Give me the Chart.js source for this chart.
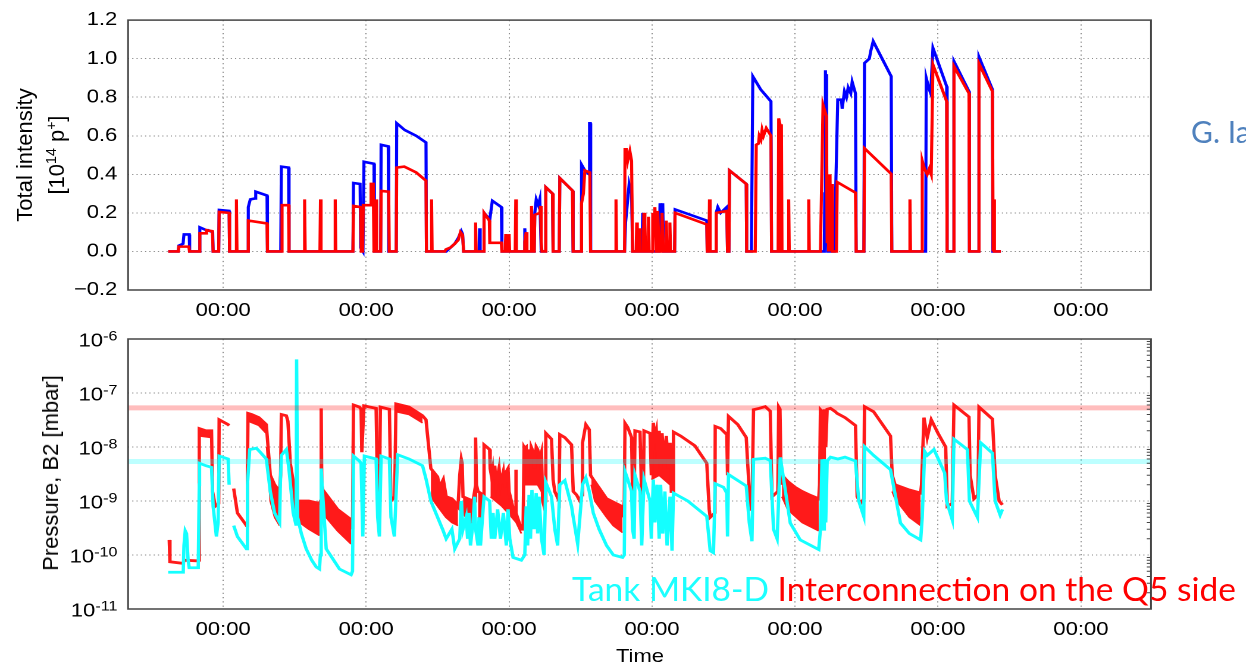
<!DOCTYPE html>
<html><head><meta charset="utf-8">
<script src="https://cdn.jsdelivr.net/npm/chart.js@4.4.0/dist/chart.umd.min.js"></script>
<style>
html,body{margin:0;padding:0;background:#fff;width:1246px;height:665px;overflow:hidden;}
#stretch{position:absolute;left:0;top:0;width:1047px;height:665px;transform:scaleX(1.19);transform-origin:0 0;}
#topWrap{position:absolute;left:0;top:0;width:1047px;height:325px;}
#botWrap{position:absolute;left:0;top:325px;width:1047px;height:340px;}
#timeLbl{position:absolute;left:537.8px;top:647px;transform:translateX(-50%);font-family:"Liberation Sans",Arial,sans-serif;font-size:18.5px;line-height:18.5px;color:#000;white-space:nowrap;}
.ytitle{position:absolute;font-family:"Liberation Sans",Arial,sans-serif;font-size:22px;line-height:22px;color:#000;white-space:nowrap;transform:translate(-50%,-50%) rotate(-90deg);}
.ytitle sup{font-size:64%;line-height:0;vertical-align:0.55em;}
#author{position:absolute;left:1191px;top:116.4px;font-family:Lato,"Open Sans",sans-serif;font-size:30px;line-height:30px;color:#4f81bd;white-space:nowrap;}
#legendTxt{position:absolute;left:572px;top:572.3px;font-family:Lato,"Open Sans",sans-serif;font-size:33.5px;line-height:33.5px;white-space:nowrap;}
</style>
</head><body>
<div id="stretch">
  <div id="topWrap"><canvas id="c1"></canvas></div>
  <div id="botWrap"><canvas id="c2"></canvas></div>
  <div id="timeLbl">Time</div>
</div>
<div class="ytitle" style="left:25px;top:155px">Total intensity</div>
<div class="ytitle" style="left:57px;top:155px">[10<sup>14</sup> p<sup>+</sup>]</div>
<div class="ytitle" style="left:51px;top:473px">Pressure, B2 [mbar]</div>
<div id="author">G. Ia</div>
<div id="legendTxt"><span style="color:#1cffff">Tank MKI8-D</span> <span style="color:#ff0000">Interconnection on the Q5 side</span></div>
<script>
// ---- axis ticks (time in days from first tick) ----
const xMin = -0.665, xMax = 6.49;
const dayTicks = [0,1,2,3,4,5,6];
const dayTickLabels = ['00:00','00:00','00:00','00:00','00:00','00:00','00:00'];
const intensityTicks = [-0.2,0,0.2,0.4,0.6,0.8,1.0,1.2];
const pressureExponents = [-11,-10,-9,-8,-7,-6];
const redLimit = 5.3e-8;
const cyanLimit = 5.4e-9;

// ---- Total intensity [1e14 p] : [day, value] ----
const blueIntensity = [
[-0.384,0],[-0.314,0],[-0.31,0.03],[-0.28,0.04],[-0.274,0.088],[-0.237,0.088],[-0.234,0],
[-0.168,0],[-0.163,0.125],[-0.116,0.11],[-0.105,0.11],[-0.073,0.1],[-0.07,0],
[-0.031,0],[-0.028,0.215],[0.042,0.21],[0.045,0],
[0.172,0],[0.176,0.23],[0.19,0.27],[0.223,0.275],[0.228,0.31],[0.307,0.29],[0.31,0],
[0.403,0],[0.407,0.44],[0.458,0.435],[0.461,0],
[0.908,0],[0.912,0.355],[0.958,0.35],[0.962,0.02],[0.978,0],[0.985,0.465],[1.055,0.455],[1.058,0],
[1.102,0],[1.105,0.553],[1.155,0.545],[1.158,0],
[1.211,0],[1.214,0.665],[1.27,0.63],[1.35,0.6],[1.419,0.565],[1.422,0],
[1.56,0],[1.59,0.02],[1.62,0.04],[1.645,0.07],[1.666,0.105],[1.675,0.09],[1.682,0],
[1.79,0],[1.794,0.12],[1.798,0],[1.822,0],[1.825,0.2],[1.86,0.17],[1.865,0.165],[1.883,0.263],[1.946,0.23],[1.95,0],
[2.106,0],[2.11,0.12],[2.118,0],[2.176,0],[2.18,0.2],[2.19,0.27],[2.205,0.24],[2.215,0.27],[2.225,0],
[2.253,0],[2.257,0.333],[2.304,0.3],[2.308,0],
[2.351,0],[2.355,0.38],[2.444,0.315],[2.448,0],
[2.503,0],[2.507,0.45],[2.53,0.42],[2.56,0.4],[2.563,0.665],[2.568,0.665],[2.571,0],
[2.808,0],[2.815,0.15],[2.84,0.35],[2.857,0.3],[2.864,0],
[2.93,0],[2.935,0.2],[2.94,0],[3.05,0],[3.056,0.25],[3.065,0.2],[3.075,0.25],[3.08,0],
[3.158,0],[3.161,0.218],[3.383,0.16],[3.386,0],
[3.445,0],[3.449,0.2],[3.46,0.23],[3.48,0.2],[3.523,0.23],[3.528,0],
[3.538,0],[3.542,0.42],[3.659,0.35],[3.662,0],
[3.695,0],[3.705,0.908],[3.76,0.84],[3.832,0.778],[3.836,0],
[4.205,0],[4.208,0.3],[4.213,0.94],[4.216,0.6],[4.219,0.92],[4.223,0.2],[4.228,0],
[4.275,0],[4.299,0.787],[4.325,0.787],[4.33,0.74],[4.346,0.83],[4.36,0.8],[4.372,0.85],[4.39,0.82],[4.4,0.88],[4.423,0.82],[4.428,0],
[4.482,0],[4.486,0.977],[4.52,1.0],[4.53,1.04],[4.547,1.09],[4.673,0.908],[4.677,0],
[4.914,0],[4.918,0.9],[4.935,0.85],[4.949,0.82],[4.965,1.055],[5.061,0.856],[5.064,0],
[5.108,0],[5.112,0.986],[5.217,0.83],[5.22,0],
[5.283,0],[5.287,1.009],[5.381,0.84],[5.384,0],[5.44,0]
];
const redIntensity = [
[-0.384,0],[-0.314,0],[-0.31,0.025],[-0.24,0.025],[-0.235,0],
[-0.168,0],[-0.163,0.094],[-0.12,0.094],[-0.116,0.11],[-0.075,0.105],[-0.07,0],
[-0.031,0],[-0.028,0.205],[0.042,0.2],[0.045,0],
[0.089,0],[0.093,0.27],[0.097,0],
[0.172,0],[0.176,0.16],[0.307,0.145],[0.31,0],
[0.408,0],[0.412,0.24],[0.458,0.24],[0.461,0],
[0.566,0],[0.57,0.27],[0.574,0],
[0.677,0],[0.681,0.27],[0.685,0],
[0.78,0],[0.784,0.27],[0.788,0],
[0.908,0],[0.912,0.236],[0.962,0.23],[0.966,0],
[0.976,0],[0.98,0.24],[1.03,0.24],[1.035,0.35],[1.05,0.35],[1.055,0],
[1.066,0],[1.07,0.27],[1.074,0],
[1.102,0],[1.105,0.314],[1.158,0.31],[1.162,0],
[1.211,0],[1.214,0.435],[1.267,0.44],[1.35,0.41],[1.419,0.367],[1.422,0],
[1.454,0],[1.458,0.27],[1.462,0],
[1.55,0],[1.558,0.01],[1.59,0.02],[1.62,0.04],[1.645,0.06],[1.66,0.1],[1.675,0.085],[1.682,0],
[1.762,0],[1.766,0.15],[1.77,0],
[1.822,0],[1.825,0.2],[1.862,0.16],[1.865,0.045],[1.946,0.045],[1.95,0],
[1.973,0],[1.977,0.09],[1.981,0],[1.996,0],[2.0,0.09],[2.004,0],
[2.043,0],[2.047,0.27],[2.051,0],
[2.106,0],[2.11,0.05],[2.12,0.1],[2.125,0],[2.153,0],[2.157,0.236],[2.161,0],
[2.176,0],[2.18,0.19],[2.215,0.2],[2.22,0.236],[2.225,0.05],[2.23,0],
[2.253,0],[2.257,0.333],[2.304,0.3],[2.308,0],
[2.351,0],[2.355,0.38],[2.444,0.315],[2.448,0],
[2.503,0],[2.507,0.25],[2.52,0.3],[2.53,0.42],[2.565,0.41],[2.57,0],
[2.744,0],[2.748,0.27],[2.752,0],
[2.808,0],[2.811,0.53],[2.82,0.53],[2.83,0.47],[2.845,0.52],[2.857,0.47],[2.864,0],
[2.889,0],[2.893,0.15],[2.897,0],[2.909,0],[2.913,0.12],[2.917,0],[2.939,0],[2.943,0.2],[2.95,0.15],[2.955,0],
[2.971,0],[2.975,0.18],[2.98,0],[3.001,0],[3.005,0.2],[3.015,0.1],[3.02,0.23],[3.03,0],[3.035,0],[3.04,0.21],[3.05,0],
[3.066,0],[3.07,0.2],[3.08,0],[3.096,0],[3.1,0.16],[3.105,0],[3.121,0],[3.125,0.15],[3.13,0],
[3.158,0],[3.161,0.2],[3.383,0.14],[3.386,0],
[3.398,0],[3.402,0.27],[3.406,0],
[3.445,0],[3.449,0.2],[3.523,0.21],[3.528,0],
[3.538,0],[3.542,0.42],[3.659,0.35],[3.662,0],
[3.722,0],[3.729,0.553],[3.745,0.56],[3.75,0.6],[3.762,0.58],[3.77,0.63],[3.78,0.6],[3.799,0.64],[3.832,0.6],[3.836,0],
[3.882,0],[3.886,0.69],[3.895,0.66],[3.9,0],[3.905,0.66],[3.909,0],
[3.952,0],[3.956,0.27],[3.96,0],[4.092,0],[4.096,0.27],[4.1,0],
[4.178,0],[4.196,0.76],[4.22,0.7],[4.225,0.05],[4.23,0.4],[4.235,0],[4.245,0.4],[4.25,0],[4.258,0.35],[4.262,0],
[4.29,0],[4.295,0.36],[4.423,0.305],[4.428,0],
[4.482,0],[4.486,0.535],[4.673,0.402],[4.677,0],
[4.8,0],[4.804,0.27],[4.808,0],
[4.885,0],[4.89,0.47],[4.905,0.43],[4.925,0.4],[4.94,0.43],[4.953,0.4],[4.965,0.969],[5.061,0.778],[5.064,0],
[5.108,0],[5.112,0.96],[5.217,0.82],[5.22,0],
[5.283,0],[5.287,0.974],[5.381,0.83],[5.386,0],[5.39,0.27],[5.395,0],[5.44,0]
];

// ---- Pressure B2 [mbar] : [day, value] ----
const redPressure = [
[-0.377,1.9e-10],[-0.372,7.5e-11],[-0.279,7e-11],[-0.274,8e-11],[-0.186,7.8e-11],[-0.17,8e-11],
[-0.167,2.2e-8],[-0.12,2e-8],[-0.081,2e-8],[-0.074,1.5e-9],[-0.055,8e-10],[-0.031,9e-10],
[-0.028,3.2e-8],[0.035,2.6e-8],[0.042,2.5e-8],[0.043,null],
[0.074,1.7e-9],[0.1,6e-10],[0.151,3.9e-10],[0.163,3.5e-10],[0.17,3e-9],[0.174,4.2e-8],[0.2,4e-8],[0.25,3.5e-8],[0.302,2.6e-8],[0.33,3e-9],[0.36,2e-9],[0.395,1.5e-9],[0.402,3e-9],
[0.407,4e-8],[0.442,3.8e-8],[0.453,3e-8],[0.47,5e-9],[0.512,1e-9],[0.535,1e-9],[0.6,1e-9],[0.674,9e-10],[0.681,1e-9],[0.686,5.2e-8],[0.69,2e-9],[0.698,1.6e-9],[0.8,7e-10],[0.895,4.5e-10],[0.905,3e-10],
[0.912,6e-8],[0.953,5.5e-8],[0.965,5e-8],[0.97,8e-9],[0.977,8e-9],[0.985,5.8e-8],[1.07,5.2e-8],[1.081,1e-9],[1.093,1.2e-9],[1.1,5.5e-8],[1.163,5e-8],[1.174,1e-9],[1.2,1.2e-9],
[1.209,6.3e-8],[1.3,5.5e-8],[1.395,3.8e-8],[1.419,3.2e-8],[1.453,4e-9],[1.5,2.8e-9],[1.514,1.8e-9],[1.54,2.5e-9],[1.56,1.2e-9],[1.6,1.1e-9],[1.631,9e-10],[1.643,8e-10],
[1.655,3e-9],[1.666,5.9e-9],[1.672,5e-9],[1.678,1.2e-9],[1.748,1e-9],[1.755,1.3e-9],[1.762,1e-9],[1.766,1.5e-8],[1.772,2e-9],[1.783,1.5e-9],[1.818,1.3e-9],[1.822,1.2e-9],
[1.825,1.1e-8],[1.864,9e-9],[1.868,4e-9],[1.876,3e-9],[1.885,4e-9],[1.89,2.5e-9],[1.9,4.5e-9],[1.91,2e-9],[1.93,4e-9],[1.94,2e-9],[1.96,3.5e-9],[1.97,1.8e-9],[1.981,3.5e-9],[1.993,4e-9],[2.0,1.5e-9],[2.03,7e-10],[2.044,6e-10],[2.047,3.8e-9],[2.05,6e-10],[2.086,3e-10],[2.098,3e-10],
[2.105,1e-8],[2.11,9.5e-9],[2.12,1e-8],[2.13,3e-9],[2.135,9e-9],[2.15,5e-9],[2.155,1e-8],[2.17,8e-9],[2.18,4e-9],[2.19,1e-8],[2.2,9e-9],[2.215,6e-9],[2.227,8e-9],[2.235,1e-9],[2.245,8e-10],[2.252,1e-9],
[2.257,1.8e-8],[2.297,1.4e-8],[2.308,2.5e-9],[2.32,1.5e-9],[2.35,1e-9],[2.355,1.7e-8],[2.39,1.5e-8],[2.437,1.1e-8],[2.449,1.5e-9],[2.472,1.3e-9],[2.495,1e-9],[2.51,1.3e-9],
[2.514,1.2e-8],[2.537,2.6e-8],[2.561,2.1e-8],[2.57,3e-9],[2.589,2.5e-9],[2.682,1.1e-9],[2.787,8e-10],[2.799,5e-10],[2.806,1e-9],
[2.811,2.75e-8],[2.83,2.3e-8],[2.857,1.5e-8],[2.864,1.2e-9],[2.875,1e-9],[2.881,2e-8],[2.916,1.9e-8],[2.928,1.1e-9],[2.94,1.5e-9],[2.944,2e-8],[2.986,1.8e-8],[2.995,3e-9],[3.009,2.8e-8],[3.02,1.5e-8],[3.03,2e-8],[3.04,6e-9],[3.05,2e-8],[3.06,4e-9],[3.07,1.8e-8],[3.085,5e-9],[3.1,1.6e-8],[3.115,4e-9],[3.126,1.2e-8],[3.135,1.5e-9],[3.145,1.5e-9],
[3.15,1.9e-8],[3.2,1.6e-8],[3.3,1.05e-8],[3.383,5e-9],[3.4,7e-10],[3.407,5e-10],[3.44,6e-10],
[3.442,2.4e-8],[3.48,2.2e-8],[3.523,1.7e-8],[3.528,3e-9],
[3.535,3.7e-8],[3.6,2.6e-8],[3.659,1.5e-8],[3.687,7e-10],[3.699,7e-10],
[3.71,4.9e-8],[3.75,5.2e-8],[3.792,5.6e-8],[3.827,4.6e-8],[3.839,1.2e-9],[3.88,1.5e-9],[3.886,5.5e-8],[3.895,5e-8],[3.904,2e-9],
[3.909,3e-9],[3.95,2.3e-9],[4.0,1.8e-9],[4.05,1.5e-9],[4.1,1.3e-9],[4.166,1.1e-9],[4.172,2e-9],
[4.178,4.9e-8],[4.19,4.5e-8],[4.2,2e-9],[4.205,5e-8],[4.215,1e-8],[4.225,5e-8],[4.248,5.2e-8],[4.283,4.5e-8],[4.294,4.2e-8],[4.35,3.5e-8],[4.423,2.5e-8],[4.435,1.2e-9],[4.46,9e-10],[4.481,1.1e-9],
[4.486,5.6e-8],[4.55,4.5e-8],[4.668,1.6e-8],[4.68,3e-9],[4.7,2e-9],[4.8,1.6e-9],[4.879,1.4e-9],[4.885,2e-9],
[4.902,3.5e-8],[4.925,1.5e-8],[4.953,3.2e-8],[5.0,1.8e-8],[5.054,1e-8],[5.065,8e-10],[5.1,9e-10],
[5.112,6e-8],[5.217,3.6e-8],[5.225,3e-9],[5.252,1.1e-9],[5.28,1.3e-9],
[5.287,5.5e-8],[5.381,3.3e-8],[5.4,3e-9],[5.428,1e-9],[5.451,8.5e-10]
];
// lower edge of the noisy red band (gaps = null)
const redPressureLow = [
[-0.163,1.6e-8],[-0.085,1.5e-8],[-0.084,null],
[0.176,3e-8],[0.25,2.5e-8],[0.3,1.8e-8],[0.301,null],
[0.305,1e-8],[0.33,1e-9],[0.36,5e-10],[0.395,3.5e-10],[0.396,null],
[0.47,3e-9],[0.5,6e-10],[0.535,4e-10],[0.6,3e-10],[0.674,2.3e-10],[0.675,null],
[0.69,1e-9],[0.72,5e-10],[0.8,2.8e-10],[0.895,1.6e-10],[0.896,null],
[1.212,4.5e-8],[1.3,4e-8],[1.395,2.8e-8],[1.396,null],
[1.453,1.2e-9],[1.5,8e-10],[1.558,5e-10],[1.6,4e-10],[1.643,3.5e-10],[1.644,null],
[1.678,6e-10],[1.72,4e-10],[1.762,3e-10],[1.763,null],
[1.783,5e-10],[1.818,4e-10],[1.819,null],
[1.87,1.2e-9],[1.95,8e-10],[1.993,6e-10],[2.05,4e-10],[2.086,2.5e-10],[2.087,null],
[2.11,2e-9],[2.15,2e-9],[2.2,2e-9],[2.227,1.5e-9],[2.228,null],
[2.575,2e-9],[2.6,1e-9],[2.682,5e-10],[2.729,3.5e-10],[2.794,2.6e-10],[2.795,null],
[2.995,2.5e-9],[3.05,3e-9],[3.126,2e-9],[3.127,null],
[3.909,1.2e-9],[3.95,6.9e-10],[4.05,4e-10],[4.166,2.8e-10],[4.167,null],
[4.68,1.5e-9],[4.7,1.1e-9],[4.8,5e-10],[4.879,3.5e-10]
];
const cyanPressure = [
[-0.384,4.8e-11],[-0.279,4.8e-11],[-0.274,1.5e-10],[-0.265,2.8e-10],[-0.256,2.5e-10],[-0.245,8e-11],[-0.237,5.8e-11],[-0.174,5.8e-11],
[-0.167,2e-9],[-0.165,5e-9],[-0.12,4.5e-9],[-0.081,4.2e-9],[-0.07,8e-10],[-0.047,2.2e-10],[-0.035,4e-10],
[-0.028,6.8e-9],[0.035,6e-9],[0.042,2e-9],[0.043,null],
[0.074,3.5e-10],[0.1,2.2e-10],[0.163,1.3e-10],[0.17,2e-9],[0.186,9e-9],[0.233,9.5e-9],[0.26,8e-9],[0.302,6e-9],[0.33,1.5e-9],[0.36,6e-10],[0.395,4e-10],[0.4,2e-9],
[0.407,7e-9],[0.442,9e-9],[0.46,4e-9],[0.49,6e-10],[0.511,3.5e-10],[0.514,4.2e-7],[0.518,4.2e-7],[0.521,5e-10],[0.547,2.5e-10],[0.581,1.3e-10],[0.62,8e-11],[0.651,6e-11],[0.674,5.5e-11],[0.68,1e-10],
[0.686,4e-9],[0.692,2e-9],[0.721,1.3e-10],[0.814,5.5e-11],[0.895,4.3e-11],[0.905,5e-11],
[0.912,6.8e-9],[0.953,5.5e-9],[0.965,5e-9],[0.977,2.2e-10],[0.988,6.8e-9],[1.07,6e-9],[1.081,5e-10],[1.093,2.2e-10],[1.105,6.8e-9],[1.163,6e-9],[1.174,5e-10],[1.198,2.2e-10],
[1.221,7.2e-9],[1.3,6e-9],[1.395,4.5e-9],[1.42,2.5e-9],[1.453,1e-9],[1.5,5e-10],[1.535,3e-10],[1.56,2e-10],[1.6,3e-10],[1.62,1.3e-10],[1.655,2e-10],[1.666,1e-9],[1.678,3e-10],
[1.7,5e-10],[1.71,2e-10],[1.72,6e-10],[1.73,1.5e-10],[1.748,4e-10],[1.759,1.2e-9],[1.766,3e-10],[1.783,1.5e-10],[1.79,5e-10],[1.8,1.5e-10],[1.825,1.2e-9],[1.864,1e-9],[1.876,2e-10],[1.888,6e-10],[1.9,2e-10],[1.92,7e-10],[1.94,2e-10],[1.96,6e-10],[1.981,1.5e-10],[1.993,7e-10],[2.005,2e-10],[2.028,9e-11],[2.086,8e-11],
[2.11,1e-10],[2.12,8e-10],[2.13,1.5e-10],[2.14,1.3e-9],[2.15,2e-10],[2.16,1.6e-9],[2.175,3e-10],[2.19,1.4e-9],[2.2,2.5e-10],[2.21,1.2e-9],[2.227,2e-10],[2.245,1e-10],
[2.257,2.2e-9],[2.297,1.2e-9],[2.32,3e-10],[2.34,1.5e-10],[2.355,2e-9],[2.39,2.4e-9],[2.437,8e-10],[2.449,5e-10],[2.48,1.6e-10],[2.514,2e-9],[2.537,2.7e-9],[2.561,1.5e-9],[2.589,6e-10],[2.63,3e-10],[2.682,1.5e-10],[2.729,1e-10],[2.794,9e-11],[2.806,1e-10],
[2.811,3.5e-9],[2.83,2.5e-9],[2.857,1.5e-9],[2.864,3e-10],[2.875,2e-10],[2.881,3e-9],[2.916,1.5e-9],[2.928,1.5e-10],[2.944,2.5e-9],[2.986,1e-9],[2.995,2e-10],[3.009,2.5e-9],[3.02,4e-10],[3.035,2e-9],[3.05,2e-10],[3.06,2e-9],[3.075,2.5e-10],[3.09,1.5e-9],[3.105,1.5e-10],[3.126,1.2e-9],[3.14,1.2e-10],
[3.15,1.4e-9],[3.25,1e-9],[3.383,5.2e-10],[3.407,1.2e-10],[3.43,1.1e-10],[3.442,2.1e-9],[3.5,1.8e-9],[3.523,1.4e-9],[3.528,2.2e-10],
[3.535,3.1e-9],[3.659,1.9e-9],[3.68,4e-10],[3.699,1.8e-10],[3.71,5.9e-9],[3.792,6.2e-9],[3.827,5.6e-9],[3.85,3e-10],[3.875,2e-10],[3.897,6.4e-9],[3.909,4e-9],
[3.967,3.9e-10],[4.037,1.9e-10],[4.166,1.26e-10],[4.178,3e-10],[4.189,5.9e-9],[4.2,3e-10],[4.205,6e-9],[4.215,4e-10],[4.225,5.5e-9],[4.248,6.5e-9],[4.3,6e-9],[4.35,6.5e-9],[4.423,5.5e-9],[4.446,1e-9],[4.481,5.2e-10],
[4.486,1.02e-8],[4.55,7e-9],[4.668,3.8e-9],[4.738,3.9e-10],[4.8,2.5e-10],[4.879,1.9e-10],[4.89,5e-10],[4.907,8.3e-9],[4.925,7e-9],[4.972,9e-9],[5.047,3.3e-9],[5.06,1e-9],[5.1,4.5e-10],
[5.112,1.4e-8],[5.206,9e-9],[5.22,1e-9],[5.276,5e-10],[5.299,1.2e-8],[5.381,7.7e-9],[5.4,1e-9],[5.435,5.5e-10],[5.451,7e-10]
];

// ---- rendering ----
const toXY = arr => arr.map(p => ({x: p[0], y: p[1]}));
const tickFont = {family: '"Liberation Sans", Arial, sans-serif', size: 18.5};
const gridColor = '#8a8a8a';
const Y_AXIS_W = 107.6;

const boxPlugin = {
  id: 'box',
  afterDraw(chart) {
    const {ctx, chartArea: a} = chart;
    ctx.save();
    ctx.strokeStyle = '#444';
    ctx.lineWidth = 1.5;
    ctx.strokeRect(a.left, a.top, a.right - a.left, a.bottom - a.top);
    ctx.restore();
  }
};

function xAxis(h) {
  return {
    type: 'linear', min: xMin, max: xMax,
    afterBuildTicks: s => { s.ticks = dayTicks.map(v => ({value: v})); },
    afterFit: s => { s.height = h; },
    grid: {color: gridColor, lineWidth: 1, drawTicks: false},
    border: {display: false, dash: [1.2, 3.1]},
    ticks: {padding: 10, color: '#000', font: tickFont, maxRotation: 0, autoSkip: false,
      callback: v => { const i = dayTicks.indexOf(v); return i >= 0 ? dayTickLabels[i] : ''; }}
  };
}
const lineDs = (data, color, w) => ({data: toXY(data), borderColor: color, borderWidth: w,
  pointRadius: 0, tension: 0, fill: false, spanGaps: false, borderJoinStyle: 'miter'});

new Chart(document.getElementById('c1'), {
  type: 'line',
  data: {datasets: [
    lineDs(redIntensity, '#ff0000', 2.6),
    lineDs(blueIntensity, '#0000ff', 2.6)
  ]},
  options: {
    responsive: true, maintainAspectRatio: false, animation: false, events: [],
    devicePixelRatio: 2,
    layout: {padding: {left: 0, right: 1047 - 967.2, top: 20, bottom: 0}},
    plugins: {legend: {display: false}, tooltip: {enabled: false}},
    scales: {
      x: xAxis(35),
      y: {
        type: 'linear', min: -0.2, max: 1.2,
        afterBuildTicks: s => { s.ticks = intensityTicks.map(v => ({value: v})); },
        afterFit: s => { s.width = Y_AXIS_W; },
        grid: {color: gridColor, lineWidth: 1, drawTicks: false},
        border: {display: false, dash: [1, 2.6]},
        ticks: {padding: 9, color: '#000', font: tickFont,
          callback: v => (v < -1e-9 ? '\u2212' : '') + Math.abs(v).toFixed(1)}
      }
    }
  },
  plugins: [boxPlugin]
});

const logLabels = {
  id: 'logLabels',
  afterDraw(chart) {
    const s = chart.scales.y, ctx = chart.ctx, a = chart.chartArea;
    ctx.save();
    ctx.fillStyle = '#000';
    ctx.textAlign = 'left';
    ctx.textBaseline = 'alphabetic';
    const right = a.left - 9;
    pressureExponents.forEach(e => {
      const y = s.getPixelForValue(Math.pow(10, e));
      const exp = '-' + Math.abs(e);
      ctx.font = '13.5px "Liberation Sans", Arial, sans-serif';
      const we = ctx.measureText(exp).width;
      ctx.font = '18.5px "Liberation Sans", Arial, sans-serif';
      const wb = ctx.measureText('10').width;
      ctx.fillText('10', right - we - wb, y + 7.5);
      ctx.font = '13.5px "Liberation Sans", Arial, sans-serif';
      ctx.fillText(exp, right - we, y + 1.5);
    });
    // minor ticks on right frame
    ctx.strokeStyle = '#444';
    ctx.lineWidth = 1;
    for (let e = -11; e < -6; e++) {
      for (let m = 2; m <= 9; m++) {
        const y = s.getPixelForValue(m * Math.pow(10, e));
        ctx.beginPath();
        ctx.moveTo(a.right - 3.5, y);
        ctx.lineTo(a.right, y);
        ctx.stroke();
      }
    }
    ctx.restore();
  }
};

const limitLine = (val, color) => ({
  data: [{x: xMin, y: val}, {x: xMax, y: val}], borderColor: color, borderWidth: 5,
  pointRadius: 0, fill: false, borderCapStyle: 'butt'
});

new Chart(document.getElementById('c2'), {
  type: 'line',
  data: {datasets: [
    limitLine(redLimit, 'rgba(255,0,0,0.26)'),
    limitLine(cyanLimit, 'rgba(0,255,255,0.26)'),
    lineDs(cyanPressure, '#14ffff', 2.8),
    lineDs(redPressure, '#ff1a1a', 2.8),
    Object.assign(lineDs(redPressureLow, '#ff1a1a', 1.5), {fill: '-1', backgroundColor: '#ff1a1a'})
  ]},
  options: {
    responsive: true, maintainAspectRatio: false, animation: false, events: [],
    devicePixelRatio: 2,
    layout: {padding: {left: 0, right: 1047 - 967.2, top: 14, bottom: 0}},
    plugins: {legend: {display: false}, tooltip: {enabled: false}},
    scales: {
      x: xAxis(56),
      y: {
        type: 'logarithmic', min: 1e-11, max: 1e-6,
        afterBuildTicks: s => { s.ticks = pressureExponents.map(e => ({value: Math.pow(10, e)})); },
        afterFit: s => { s.width = Y_AXIS_W; },
        grid: {color: gridColor, lineWidth: 1, drawTicks: false},
        border: {display: false, dash: [1, 2.6]},
        ticks: {display: false}
      }
    }
  },
  plugins: [boxPlugin, logLabels]
});
</script>
</body></html>
